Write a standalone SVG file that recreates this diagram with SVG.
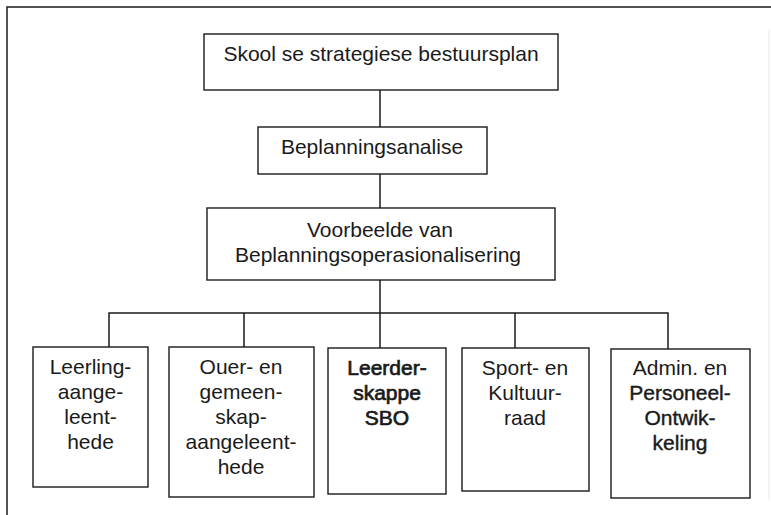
<svg xmlns="http://www.w3.org/2000/svg" width="771" height="515" viewBox="0 0 771 515">
<style>
.box{fill:#fff;stroke:#1a1a1a;stroke-width:1.4}
.ln{fill:none;stroke:#1a1a1a;stroke-width:1.5}
text{font-family:"Liberation Sans",Arial,sans-serif;font-size:21px;fill:#1a1a1a;text-anchor:middle}
.b{stroke:#1a1a1a;stroke-width:0.7}
.sb{stroke:#1a1a1a;stroke-width:0.4}
</style>
<rect width="771" height="515" fill="#fff"/>
<g id="frame">
<path class="ln" d="M7,515 V7 H771"/>
<line x1="769" y1="30" x2="769" y2="500" stroke="#e8e8e8" stroke-width="1"/>
</g>
<g id="connectors">
<path class="ln" d="M380,90 V127"/>
<path class="ln" d="M380,174 V208"/>
<path class="ln" d="M380,280 V348"/>
<path class="ln" d="M109,348 V313 H668 V349"/>
<path class="ln" d="M244,313 V347"/>
<path class="ln" d="M515,313 V348"/>
</g>
<g id="n1">
<rect class="box" x="204" y="34" width="354" height="56"/>
<text x="381" y="61">Skool se strategiese bestuursplan</text>
</g>
<g id="n2">
<rect class="box" x="258" y="127" width="229" height="47"/>
<text x="372" y="154">Beplanningsanalise</text>
</g>
<g id="n3">
<rect class="box" x="207" y="208" width="348" height="72"/>
<text x="380" y="237">Voorbeelde van</text>
<text x="378" y="262">Beplanningsoperasionalisering</text>
</g>
<g id="n4">
<rect class="box" x="33" y="347" width="115" height="140"/>
<text x="90.5" y="374">Leerling-</text>
<text x="90.5" y="399">aange-</text>
<text x="90.5" y="424">leent-</text>
<text x="90.5" y="449">hede</text>
</g>
<g id="n5">
<rect class="box" x="169" y="347" width="145" height="150"/>
<text x="241" y="374">Ouer- en</text>
<text x="241" y="399">gemeen-</text>
<text x="241" y="424">skap-</text>
<text x="241" y="449">aangeleent-</text>
<text x="241" y="474">hede</text>
</g>
<g id="n6">
<rect class="box" x="328" y="348" width="118" height="146"/>
<text class="b" x="387" y="375">Leerder-</text>
<text class="b" x="387" y="400">skappe</text>
<text class="b" x="387" y="425">SBO</text>
</g>
<g id="n7">
<rect class="box" x="462" y="348" width="127" height="143"/>
<text x="525" y="375">Sport- en</text>
<text x="525" y="400">Kultuur-</text>
<text x="525" y="425">raad</text>
</g>
<g id="n8">
<rect class="box" x="611" y="349" width="139" height="149"/>
<text x="680" y="375">Admin. en</text>
<text class="sb" x="680" y="400">Personeel-</text>
<text class="sb" x="680" y="425">Ontwik-</text>
<text class="sb" x="680" y="450">keling</text>
</g>
</svg>
